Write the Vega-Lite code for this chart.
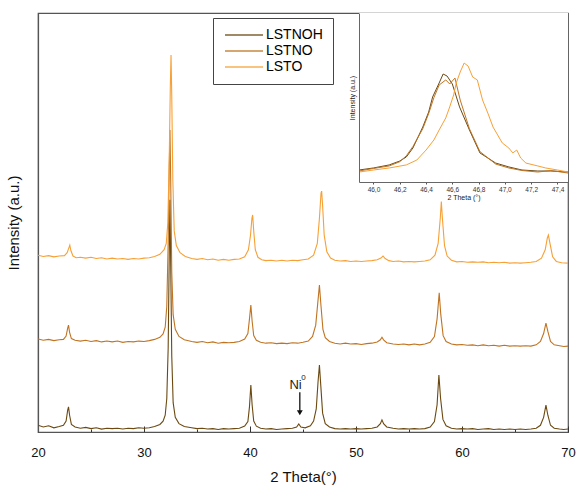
{
"$schema":"https://vega.github.io/schema/vega-lite/v6.json",
"width":530,"height":419,
"autosize":{"type":"none"},
"padding":{"left":38,"top":13,"right":10,"bottom":59},
"config":{"view":{"stroke":"#555","strokeWidth":1.2},"font":"Liberation Sans"},
"datasets":{
"main":[
{"s":"LSTNOH","x":20.0,"y":1.6},{"s":"LSTNOH","x":20.5,"y":1.2},{"s":"LSTNOH","x":21.0,"y":1.5},{"s":"LSTNOH","x":21.5,"y":1.0},{"s":"LSTNOH","x":22.0,"y":1.3},{"s":"LSTNOH","x":22.4,"y":1.6},{"s":"LSTNOH","x":22.65,"y":2.6},{"s":"LSTNOH","x":22.8,"y":5.2},{"s":"LSTNOH","x":22.88,"y":6.0},{"s":"LSTNOH","x":22.98,"y":4.0},{"s":"LSTNOH","x":23.15,"y":1.8},{"s":"LSTNOH","x":23.5,"y":1.2},{"s":"LSTNOH","x":24.0,"y":0.9},{"s":"LSTNOH","x":24.5,"y":1.1},{"s":"LSTNOH","x":25.0,"y":0.8},{"s":"LSTNOH","x":25.5,"y":1.0},{"s":"LSTNOH","x":26.0,"y":0.7},{"s":"LSTNOH","x":26.5,"y":0.9},{"s":"LSTNOH","x":27.0,"y":0.8},{"s":"LSTNOH","x":27.5,"y":0.9},{"s":"LSTNOH","x":28.0,"y":0.7},{"s":"LSTNOH","x":28.5,"y":0.9},{"s":"LSTNOH","x":29.0,"y":0.8},{"s":"LSTNOH","x":29.5,"y":1.0},{"s":"LSTNOH","x":30.0,"y":0.9},{"s":"LSTNOH","x":30.5,"y":1.0},{"s":"LSTNOH","x":31.0,"y":1.3},{"s":"LSTNOH","x":31.5,"y":1.8},{"s":"LSTNOH","x":31.8,"y":2.6},{"s":"LSTNOH","x":32.0,"y":4.0},{"s":"LSTNOH","x":32.15,"y":8},{"s":"LSTNOH","x":32.28,"y":20},{"s":"LSTNOH","x":32.38,"y":42},{"s":"LSTNOH","x":32.45,"y":55.4},{"s":"LSTNOH","x":32.52,"y":40},{"s":"LSTNOH","x":32.62,"y":18},{"s":"LSTNOH","x":32.75,"y":7},{"s":"LSTNOH","x":32.95,"y":3.5},{"s":"LSTNOH","x":33.3,"y":2.0},{"s":"LSTNOH","x":33.8,"y":1.3},{"s":"LSTNOH","x":34.5,"y":1.0},{"s":"LSTNOH","x":35.0,"y":0.8},{"s":"LSTNOH","x":35.5,"y":0.9},{"s":"LSTNOH","x":36.0,"y":0.7},{"s":"LSTNOH","x":36.5,"y":0.8},{"s":"LSTNOH","x":37.0,"y":0.6},{"s":"LSTNOH","x":37.5,"y":0.8},{"s":"LSTNOH","x":38.0,"y":0.7},{"s":"LSTNOH","x":38.5,"y":0.8},{"s":"LSTNOH","x":39.0,"y":0.9},{"s":"LSTNOH","x":39.5,"y":1.4},{"s":"LSTNOH","x":39.8,"y":2.5},{"s":"LSTNOH","x":39.95,"y":6},{"s":"LSTNOH","x":40.08,"y":11.2},{"s":"LSTNOH","x":40.2,"y":6.5},{"s":"LSTNOH","x":40.35,"y":2.6},{"s":"LSTNOH","x":40.6,"y":1.4},{"s":"LSTNOH","x":41.0,"y":0.9},{"s":"LSTNOH","x":41.5,"y":0.7},{"s":"LSTNOH","x":42.0,"y":0.8},{"s":"LSTNOH","x":42.5,"y":0.6},{"s":"LSTNOH","x":43.0,"y":0.7},{"s":"LSTNOH","x":43.5,"y":0.8},{"s":"LSTNOH","x":44.0,"y":0.9},{"s":"LSTNOH","x":44.4,"y":1.2},{"s":"LSTNOH","x":44.6,"y":1.9},{"s":"LSTNOH","x":44.8,"y":1.2},{"s":"LSTNOH","x":45.2,"y":1.0},{"s":"LSTNOH","x":45.7,"y":1.5},{"s":"LSTNOH","x":46.0,"y":2.6},{"s":"LSTNOH","x":46.25,"y":5.5},{"s":"LSTNOH","x":46.42,"y":12},{"s":"LSTNOH","x":46.55,"y":16.0},{"s":"LSTNOH","x":46.68,"y":11},{"s":"LSTNOH","x":46.85,"y":4.5},{"s":"LSTNOH","x":47.1,"y":2.0},{"s":"LSTNOH","x":47.5,"y":1.2},{"s":"LSTNOH","x":48.0,"y":0.8},{"s":"LSTNOH","x":48.5,"y":0.7},{"s":"LSTNOH","x":49.0,"y":0.8},{"s":"LSTNOH","x":49.5,"y":0.7},{"s":"LSTNOH","x":50.0,"y":0.8},{"s":"LSTNOH","x":50.5,"y":0.7},{"s":"LSTNOH","x":51.0,"y":0.8},{"s":"LSTNOH","x":51.5,"y":0.9},{"s":"LSTNOH","x":52.0,"y":1.2},{"s":"LSTNOH","x":52.3,"y":2.0},{"s":"LSTNOH","x":52.45,"y":2.9},{"s":"LSTNOH","x":52.6,"y":2.0},{"s":"LSTNOH","x":52.9,"y":1.2},{"s":"LSTNOH","x":53.5,"y":0.9},{"s":"LSTNOH","x":54.0,"y":0.7},{"s":"LSTNOH","x":54.5,"y":0.8},{"s":"LSTNOH","x":55.0,"y":0.7},{"s":"LSTNOH","x":55.5,"y":0.8},{"s":"LSTNOH","x":56.0,"y":0.7},{"s":"LSTNOH","x":56.5,"y":0.8},{"s":"LSTNOH","x":57.0,"y":1.2},{"s":"LSTNOH","x":57.4,"y":2.5},{"s":"LSTNOH","x":57.65,"y":6.5},{"s":"LSTNOH","x":57.82,"y":13.6},{"s":"LSTNOH","x":57.98,"y":8},{"s":"LSTNOH","x":58.2,"y":3},{"s":"LSTNOH","x":58.5,"y":1.5},{"s":"LSTNOH","x":59.0,"y":0.9},{"s":"LSTNOH","x":59.5,"y":0.7},{"s":"LSTNOH","x":60.0,"y":0.8},{"s":"LSTNOH","x":60.5,"y":0.7},{"s":"LSTNOH","x":61.0,"y":0.8},{"s":"LSTNOH","x":61.5,"y":0.6},{"s":"LSTNOH","x":62.0,"y":0.7},{"s":"LSTNOH","x":62.5,"y":0.8},{"s":"LSTNOH","x":63.0,"y":0.6},{"s":"LSTNOH","x":63.5,"y":0.7},{"s":"LSTNOH","x":64.0,"y":0.6},{"s":"LSTNOH","x":64.5,"y":0.7},{"s":"LSTNOH","x":65.0,"y":0.6},{"s":"LSTNOH","x":65.5,"y":0.7},{"s":"LSTNOH","x":66.0,"y":0.6},{"s":"LSTNOH","x":66.5,"y":0.7},{"s":"LSTNOH","x":67.0,"y":0.9},{"s":"LSTNOH","x":67.4,"y":1.6},{"s":"LSTNOH","x":67.7,"y":3.5},{"s":"LSTNOH","x":67.92,"y":6.4},{"s":"LSTNOH","x":68.1,"y":4},{"s":"LSTNOH","x":68.35,"y":1.6},{"s":"LSTNOH","x":68.7,"y":0.9},{"s":"LSTNOH","x":69.2,"y":0.7},{"s":"LSTNOH","x":69.6,"y":0.6},{"s":"LSTNOH","x":70.0,"y":0.7},
{"s":"LSTNO","x":20.0,"y":22.2},{"s":"LSTNO","x":20.5,"y":21.9},{"s":"LSTNO","x":21.0,"y":22.1},{"s":"LSTNO","x":21.5,"y":21.8},{"s":"LSTNO","x":22.0,"y":22.0},{"s":"LSTNO","x":22.4,"y":22.1},{"s":"LSTNO","x":22.65,"y":22.9},{"s":"LSTNO","x":22.8,"y":24.8},{"s":"LSTNO","x":22.88,"y":25.5},{"s":"LSTNO","x":22.98,"y":23.8},{"s":"LSTNO","x":23.15,"y":22.3},{"s":"LSTNO","x":23.5,"y":21.9},{"s":"LSTNO","x":24.0,"y":21.7},{"s":"LSTNO","x":24.5,"y":21.9},{"s":"LSTNO","x":25.0,"y":21.6},{"s":"LSTNO","x":25.5,"y":21.8},{"s":"LSTNO","x":26.0,"y":21.5},{"s":"LSTNO","x":26.5,"y":21.7},{"s":"LSTNO","x":27.0,"y":21.5},{"s":"LSTNO","x":27.5,"y":21.7},{"s":"LSTNO","x":28.0,"y":21.4},{"s":"LSTNO","x":28.5,"y":21.6},{"s":"LSTNO","x":29.0,"y":21.5},{"s":"LSTNO","x":29.5,"y":21.7},{"s":"LSTNO","x":30.0,"y":21.6},{"s":"LSTNO","x":30.5,"y":21.8},{"s":"LSTNO","x":31.0,"y":22.1},{"s":"LSTNO","x":31.5,"y":22.6},{"s":"LSTNO","x":31.8,"y":23.4},{"s":"LSTNO","x":32.0,"y":25},{"s":"LSTNO","x":32.15,"y":30},{"s":"LSTNO","x":32.28,"y":45},{"s":"LSTNO","x":32.38,"y":63},{"s":"LSTNO","x":32.45,"y":72.1},{"s":"LSTNO","x":32.52,"y":60},{"s":"LSTNO","x":32.62,"y":38},{"s":"LSTNO","x":32.75,"y":28},{"s":"LSTNO","x":32.95,"y":24.5},{"s":"LSTNO","x":33.3,"y":22.8},{"s":"LSTNO","x":33.8,"y":22.0},{"s":"LSTNO","x":34.5,"y":21.6},{"s":"LSTNO","x":35.0,"y":21.4},{"s":"LSTNO","x":35.5,"y":21.6},{"s":"LSTNO","x":36.0,"y":21.3},{"s":"LSTNO","x":36.5,"y":21.5},{"s":"LSTNO","x":37.0,"y":21.2},{"s":"LSTNO","x":37.5,"y":21.4},{"s":"LSTNO","x":38.0,"y":21.3},{"s":"LSTNO","x":38.5,"y":21.4},{"s":"LSTNO","x":39.0,"y":21.6},{"s":"LSTNO","x":39.5,"y":22.2},{"s":"LSTNO","x":39.8,"y":23.5},{"s":"LSTNO","x":39.95,"y":27},{"s":"LSTNO","x":40.08,"y":30.3},{"s":"LSTNO","x":40.2,"y":26.5},{"s":"LSTNO","x":40.35,"y":23.0},{"s":"LSTNO","x":40.6,"y":21.9},{"s":"LSTNO","x":41.0,"y":21.4},{"s":"LSTNO","x":41.5,"y":21.2},{"s":"LSTNO","x":42.0,"y":21.3},{"s":"LSTNO","x":42.5,"y":21.1},{"s":"LSTNO","x":43.0,"y":21.2},{"s":"LSTNO","x":43.5,"y":21.1},{"s":"LSTNO","x":44.0,"y":21.3},{"s":"LSTNO","x":44.5,"y":21.2},{"s":"LSTNO","x":45.0,"y":21.4},{"s":"LSTNO","x":45.5,"y":21.7},{"s":"LSTNO","x":45.9,"y":22.8},{"s":"LSTNO","x":46.2,"y":25.5},{"s":"LSTNO","x":46.4,"y":31},{"s":"LSTNO","x":46.55,"y":35.1},{"s":"LSTNO","x":46.7,"y":30},{"s":"LSTNO","x":46.88,"y":24.5},{"s":"LSTNO","x":47.1,"y":22.5},{"s":"LSTNO","x":47.5,"y":21.6},{"s":"LSTNO","x":48.0,"y":21.2},{"s":"LSTNO","x":48.5,"y":21.0},{"s":"LSTNO","x":49.0,"y":21.2},{"s":"LSTNO","x":49.5,"y":21.0},{"s":"LSTNO","x":50.0,"y":21.1},{"s":"LSTNO","x":50.5,"y":20.9},{"s":"LSTNO","x":51.0,"y":21.1},{"s":"LSTNO","x":51.5,"y":21.2},{"s":"LSTNO","x":52.0,"y":21.5},{"s":"LSTNO","x":52.3,"y":22.0},{"s":"LSTNO","x":52.45,"y":22.6},{"s":"LSTNO","x":52.6,"y":22.0},{"s":"LSTNO","x":52.9,"y":21.3},{"s":"LSTNO","x":53.5,"y":21.0},{"s":"LSTNO","x":54.0,"y":20.9},{"s":"LSTNO","x":54.5,"y":21.0},{"s":"LSTNO","x":55.0,"y":20.8},{"s":"LSTNO","x":55.5,"y":21.0},{"s":"LSTNO","x":56.0,"y":20.8},{"s":"LSTNO","x":56.5,"y":21.0},{"s":"LSTNO","x":57.0,"y":21.4},{"s":"LSTNO","x":57.4,"y":22.8},{"s":"LSTNO","x":57.65,"y":27},{"s":"LSTNO","x":57.85,"y":33.2},{"s":"LSTNO","x":58.0,"y":28},{"s":"LSTNO","x":58.22,"y":23},{"s":"LSTNO","x":58.5,"y":21.6},{"s":"LSTNO","x":59.0,"y":21.0},{"s":"LSTNO","x":59.5,"y":20.8},{"s":"LSTNO","x":60.0,"y":20.9},{"s":"LSTNO","x":60.5,"y":20.7},{"s":"LSTNO","x":61.0,"y":20.8},{"s":"LSTNO","x":61.5,"y":20.6},{"s":"LSTNO","x":62.0,"y":20.8},{"s":"LSTNO","x":62.5,"y":20.6},{"s":"LSTNO","x":63.0,"y":20.7},{"s":"LSTNO","x":63.5,"y":20.5},{"s":"LSTNO","x":64.0,"y":20.7},{"s":"LSTNO","x":64.5,"y":20.5},{"s":"LSTNO","x":65.0,"y":20.6},{"s":"LSTNO","x":65.5,"y":20.5},{"s":"LSTNO","x":66.0,"y":20.6},{"s":"LSTNO","x":66.5,"y":20.5},{"s":"LSTNO","x":67.0,"y":20.8},{"s":"LSTNO","x":67.4,"y":21.6},{"s":"LSTNO","x":67.7,"y":23.5},{"s":"LSTNO","x":67.92,"y":26.0},{"s":"LSTNO","x":68.1,"y":24},{"s":"LSTNO","x":68.35,"y":21.6},{"s":"LSTNO","x":68.7,"y":20.8},{"s":"LSTNO","x":69.2,"y":20.6},{"s":"LSTNO","x":69.6,"y":20.4},{"s":"LSTNO","x":70.0,"y":20.5},
{"s":"LSTO","x":20.0,"y":42.2},{"s":"LSTO","x":20.5,"y":41.9},{"s":"LSTO","x":21.0,"y":42.1},{"s":"LSTO","x":21.5,"y":41.8},{"s":"LSTO","x":22.0,"y":42.0},{"s":"LSTO","x":22.5,"y":42.1},{"s":"LSTO","x":22.75,"y":42.8},{"s":"LSTO","x":22.92,"y":44.0},{"s":"LSTO","x":23.0,"y":44.6},{"s":"LSTO","x":23.1,"y":43.3},{"s":"LSTO","x":23.3,"y":42.0},{"s":"LSTO","x":23.6,"y":41.6},{"s":"LSTO","x":24.0,"y":41.7},{"s":"LSTO","x":24.5,"y":41.5},{"s":"LSTO","x":25.0,"y":41.7},{"s":"LSTO","x":25.5,"y":41.4},{"s":"LSTO","x":26.0,"y":41.6},{"s":"LSTO","x":26.5,"y":41.3},{"s":"LSTO","x":27.0,"y":41.5},{"s":"LSTO","x":27.5,"y":41.3},{"s":"LSTO","x":28.0,"y":41.4},{"s":"LSTO","x":28.5,"y":41.2},{"s":"LSTO","x":29.0,"y":41.4},{"s":"LSTO","x":29.5,"y":41.3},{"s":"LSTO","x":30.0,"y":41.5},{"s":"LSTO","x":30.5,"y":41.6},{"s":"LSTO","x":31.0,"y":41.9},{"s":"LSTO","x":31.5,"y":42.4},{"s":"LSTO","x":31.9,"y":43.5},{"s":"LSTO","x":32.1,"y":45},{"s":"LSTO","x":32.25,"y":50},{"s":"LSTO","x":32.38,"y":65},{"s":"LSTO","x":32.48,"y":82},{"s":"LSTO","x":32.55,"y":90.0},{"s":"LSTO","x":32.62,"y":80},{"s":"LSTO","x":32.72,"y":60},{"s":"LSTO","x":32.85,"y":48},{"s":"LSTO","x":33.05,"y":44.5},{"s":"LSTO","x":33.4,"y":42.8},{"s":"LSTO","x":33.9,"y":41.9},{"s":"LSTO","x":34.5,"y":41.4},{"s":"LSTO","x":35.0,"y":41.2},{"s":"LSTO","x":35.5,"y":41.4},{"s":"LSTO","x":36.0,"y":41.1},{"s":"LSTO","x":36.5,"y":41.3},{"s":"LSTO","x":37.0,"y":41.0},{"s":"LSTO","x":37.5,"y":41.2},{"s":"LSTO","x":38.0,"y":41.0},{"s":"LSTO","x":38.5,"y":41.2},{"s":"LSTO","x":39.0,"y":41.3},{"s":"LSTO","x":39.5,"y":41.8},{"s":"LSTO","x":39.85,"y":43.5},{"s":"LSTO","x":40.05,"y":47},{"s":"LSTO","x":40.18,"y":51.0},{"s":"LSTO","x":40.25,"y":51.8},{"s":"LSTO","x":40.35,"y":48},{"s":"LSTO","x":40.5,"y":43.5},{"s":"LSTO","x":40.75,"y":41.7},{"s":"LSTO","x":41.1,"y":41.1},{"s":"LSTO","x":41.5,"y":40.9},{"s":"LSTO","x":42.0,"y":41.0},{"s":"LSTO","x":42.5,"y":40.8},{"s":"LSTO","x":43.0,"y":41.0},{"s":"LSTO","x":43.5,"y":40.8},{"s":"LSTO","x":44.0,"y":41.0},{"s":"LSTO","x":44.5,"y":40.9},{"s":"LSTO","x":45.0,"y":41.1},{"s":"LSTO","x":45.5,"y":41.3},{"s":"LSTO","x":46.0,"y":42.2},{"s":"LSTO","x":46.35,"y":45},{"s":"LSTO","x":46.55,"y":51},{"s":"LSTO","x":46.7,"y":57.0},{"s":"LSTO","x":46.76,"y":57.5},{"s":"LSTO","x":46.85,"y":54},{"s":"LSTO","x":47.0,"y":47},{"s":"LSTO","x":47.25,"y":43},{"s":"LSTO","x":47.6,"y":41.5},{"s":"LSTO","x":48.0,"y":41.0},{"s":"LSTO","x":48.5,"y":40.8},{"s":"LSTO","x":49.0,"y":40.9},{"s":"LSTO","x":49.5,"y":40.7},{"s":"LSTO","x":50.0,"y":40.8},{"s":"LSTO","x":50.5,"y":40.7},{"s":"LSTO","x":51.0,"y":40.8},{"s":"LSTO","x":51.5,"y":40.9},{"s":"LSTO","x":52.0,"y":41.1},{"s":"LSTO","x":52.35,"y":41.5},{"s":"LSTO","x":52.55,"y":42.0},{"s":"LSTO","x":52.75,"y":41.4},{"s":"LSTO","x":53.1,"y":40.9},{"s":"LSTO","x":53.5,"y":40.7},{"s":"LSTO","x":54.0,"y":40.8},{"s":"LSTO","x":54.5,"y":40.6},{"s":"LSTO","x":55.0,"y":40.7},{"s":"LSTO","x":55.5,"y":40.6},{"s":"LSTO","x":56.0,"y":40.7},{"s":"LSTO","x":56.5,"y":40.8},{"s":"LSTO","x":57.0,"y":41.1},{"s":"LSTO","x":57.45,"y":42.2},{"s":"LSTO","x":57.75,"y":45},{"s":"LSTO","x":57.95,"y":51},{"s":"LSTO","x":58.05,"y":55.0},{"s":"LSTO","x":58.15,"y":51},{"s":"LSTO","x":58.35,"y":44.5},{"s":"LSTO","x":58.6,"y":42.0},{"s":"LSTO","x":59.0,"y":41.0},{"s":"LSTO","x":59.5,"y":40.6},{"s":"LSTO","x":60.0,"y":40.7},{"s":"LSTO","x":60.5,"y":40.5},{"s":"LSTO","x":61.0,"y":40.6},{"s":"LSTO","x":61.5,"y":40.5},{"s":"LSTO","x":62.0,"y":40.6},{"s":"LSTO","x":62.5,"y":40.4},{"s":"LSTO","x":63.0,"y":40.5},{"s":"LSTO","x":63.5,"y":40.4},{"s":"LSTO","x":64.0,"y":40.5},{"s":"LSTO","x":64.5,"y":40.3},{"s":"LSTO","x":65.0,"y":40.4},{"s":"LSTO","x":65.5,"y":40.3},{"s":"LSTO","x":66.0,"y":40.4},{"s":"LSTO","x":66.5,"y":40.5},{"s":"LSTO","x":67.0,"y":40.7},{"s":"LSTO","x":67.5,"y":41.5},{"s":"LSTO","x":67.85,"y":43.5},{"s":"LSTO","x":68.05,"y":46.3},{"s":"LSTO","x":68.15,"y":47.0},{"s":"LSTO","x":68.3,"y":45},{"s":"LSTO","x":68.55,"y":41.8},{"s":"LSTO","x":68.9,"y":40.7},{"s":"LSTO","x":69.4,"y":40.4},{"s":"LSTO","x":70.0,"y":40.3}
],
"inset":[
{"s":"LSTNOH","x":45.89,"y":7.1},{"s":"LSTNOH","x":46.0,"y":8.3},{"s":"LSTNOH","x":46.12,"y":10.1},{"s":"LSTNOH","x":46.2,"y":12.4},{"s":"LSTNOH","x":46.25,"y":14.8},{"s":"LSTNOH","x":46.3,"y":20.1},{"s":"LSTNOH","x":46.375,"y":32.5},{"s":"LSTNOH","x":46.42,"y":41.4},{"s":"LSTNOH","x":46.45,"y":50.3},{"s":"LSTNOH","x":46.5,"y":58.6},{"s":"LSTNOH","x":46.53,"y":63.9},{"s":"LSTNOH","x":46.56,"y":62.7},{"s":"LSTNOH","x":46.6,"y":58},{"s":"LSTNOH","x":46.655,"y":44.4},{"s":"LSTNOH","x":46.73,"y":30.8},{"s":"LSTNOH","x":46.81,"y":17.2},{"s":"LSTNOH","x":46.93,"y":11.2},{"s":"LSTNOH","x":47.03,"y":8.9},{"s":"LSTNOH","x":47.13,"y":7.1},{"s":"LSTNOH","x":47.25,"y":6.5},{"s":"LSTNOH","x":47.35,"y":6.5},{"s":"LSTNOH","x":47.48,"y":5.9},
{"s":"LSTNO","x":45.89,"y":6.5},{"s":"LSTNO","x":46.0,"y":8.0},{"s":"LSTNO","x":46.12,"y":9.5},{"s":"LSTNO","x":46.2,"y":12.0},{"s":"LSTNO","x":46.25,"y":15.5},{"s":"LSTNO","x":46.3,"y":21.0},{"s":"LSTNO","x":46.375,"y":31.5},{"s":"LSTNO","x":46.42,"y":40.5},{"s":"LSTNO","x":46.46,"y":50.0},{"s":"LSTNO","x":46.5,"y":57.4},{"s":"LSTNO","x":46.55,"y":60.4},{"s":"LSTNO","x":46.58,"y":58},{"s":"LSTNO","x":46.62,"y":61.5},{"s":"LSTNO","x":46.66,"y":48.5},{"s":"LSTNO","x":46.73,"y":31.5},{"s":"LSTNO","x":46.81,"y":18.0},{"s":"LSTNO","x":46.93,"y":10.6},{"s":"LSTNO","x":47.03,"y":8.3},{"s":"LSTNO","x":47.13,"y":6.8},{"s":"LSTNO","x":47.25,"y":5.9},{"s":"LSTNO","x":47.35,"y":6.8},{"s":"LSTNO","x":47.48,"y":5.3},
{"s":"LSTO","x":45.89,"y":5.9},{"s":"LSTO","x":46.0,"y":7.1},{"s":"LSTO","x":46.12,"y":8.3},{"s":"LSTO","x":46.25,"y":10.1},{"s":"LSTO","x":46.33,"y":13},{"s":"LSTO","x":46.4,"y":18.9},{"s":"LSTO","x":46.46,"y":24.9},{"s":"LSTO","x":46.5,"y":30.8},{"s":"LSTO","x":46.55,"y":37.9},{"s":"LSTO","x":46.58,"y":44.4},{"s":"LSTO","x":46.61,"y":51.5},{"s":"LSTO","x":46.63,"y":58.6},{"s":"LSTO","x":46.66,"y":65.1},{"s":"LSTO","x":46.69,"y":70.4},{"s":"LSTO","x":46.72,"y":68.6},{"s":"LSTO","x":46.755,"y":62.1},{"s":"LSTO","x":46.79,"y":60.4},{"s":"LSTO","x":46.83,"y":48.5},{"s":"LSTO","x":46.87,"y":40.8},{"s":"LSTO","x":46.91,"y":32.5},{"s":"LSTO","x":46.98,"y":23.1},{"s":"LSTO","x":47.03,"y":20.1},{"s":"LSTO","x":47.06,"y":17.2},{"s":"LSTO","x":47.09,"y":18.9},{"s":"LSTO","x":47.12,"y":14.2},{"s":"LSTO","x":47.16,"y":11.2},{"s":"LSTO","x":47.25,"y":9.5},{"s":"LSTO","x":47.31,"y":8.3},{"s":"LSTO","x":47.4,"y":7.1},{"s":"LSTO","x":47.48,"y":5.9}
],
"box":[{"x":45.89,"x2":47.48,"y":0,"y2":100}],
"ni":[{"x":44.3,"y":11.3,"t":"Ni"}],
"sup":[{"x":45.05,"y":12.9,"t":"0"}],
"arrow":[{"x":44.7,"y":9.5,"y2":5.0}],
"head":[{"x":44.7,"y":4.6}]
},
"layer":[
{"layer":[
{"data":{"name":"main"},"mark":{"type":"line","strokeWidth":1.1,"clip":true},
"encoding":{
"x":{"field":"x","type":"quantitative","scale":{"domain":[20,70],"nice":false,"zero":false},
"axis":{"title":"2 Theta(°)","values":[20,25,30,35,40,45,50,55,60,65,70],"labelExpr":"datum.value % 10 === 0 ? datum.label : ''","labelFlush":false,"tickSize":{"condition":{"test":"datum.value % 10 === 0","value":-6},"value":-3},"tickColor":"#333","domainColor":"#555","domainWidth":1.2,"labelFontSize":13,"labelColor":"#111","labelPadding":20,"titleFontSize":15,"titleFontWeight":"normal","titleColor":"#111","titlePadding":10,"grid":false}},
"y":{"field":"y","type":"quantitative","scale":{"domain":[0,100],"nice":false,"zero":false},
"axis":{"title":"Intensity (a.u.)","labels":false,"ticks":false,"grid":false,"domainColor":"#555","domainWidth":1.2,"titleFontSize":15,"titleFontWeight":"normal","titleColor":"#111","titlePadding":17}},
"color":{"field":"s","type":"nominal","scale":{"domain":["LSTNOH","LSTNO","LSTO"],"range":["#6b4911","#c07422","#f7a035"]},
"legend":{"orient":"none","legendX":175,"legendY":5,"title":null,"symbolType":"M-1,0H6.6","symbolSize":100,"symbolStrokeWidth":1.5,"symbolOpacity":0.85,"labelFontSize":14,"labelColor":"#000","labelOffset":29,"strokeColor":"#444","fillColor":"white","padding":10,"rowPadding":2}}
}},
{"data":{"name":"ni"},"mark":{"type":"text","fontSize":13,"color":"#222"},"encoding":{"x":{"field":"x","type":"quantitative"},"y":{"field":"y","type":"quantitative"},"text":{"field":"t"}}},
{"data":{"name":"sup"},"mark":{"type":"text","fontSize":8,"color":"#222"},"encoding":{"x":{"field":"x","type":"quantitative"},"y":{"field":"y","type":"quantitative"},"text":{"field":"t"}}},
{"data":{"name":"arrow"},"mark":{"type":"rule","color":"#111","strokeWidth":1.3},"encoding":{"x":{"field":"x","type":"quantitative"},"y":{"field":"y","type":"quantitative"},"y2":{"field":"y2"}}},
{"data":{"name":"head"},"mark":{"type":"point","shape":"triangle-down","filled":true,"color":"#111","size":35,"opacity":1},"encoding":{"x":{"field":"x","type":"quantitative"},"y":{"field":"y","type":"quantitative"}}}
]},
{"layer":[
{"data":{"name":"box"},"mark":{"type":"rect","fill":"white","stroke":null},
"encoding":{
"x":{"field":"x","type":"quantitative","scale":{"domain":[45.89,47.48],"range":[321,530],"nice":false,"zero":false},
"axis":{"orient":"bottom","offset":-250,"zindex":2,"title":"2 Theta (°)","values":[46.0,46.2,46.4,46.6,46.8,47.0,47.2,47.4],"labelExpr":"replace(format(datum.value, '.1f'), '.', ',')","tickSize":2,"tickColor":"#555","domainColor":"#666","labelFontSize":6.5,"labelColor":"#333","labelPadding":2,"titleFontSize":7,"titleFontWeight":"normal","titleColor":"#222","titlePadding":1,"grid":false}},
"x2":{"field":"x2"},
"y":{"field":"y","type":"quantitative","scale":{"domain":[0,100],"range":[169,0],"nice":false,"zero":false},
"axis":{"orient":"left","offset":-321,"zindex":2,"title":"Intensity (a.u.)","labels":false,"ticks":false,"grid":false,"domainColor":"#666","titleFontSize":7,"titleFontWeight":"normal","titleColor":"#222","titlePadding":4}},
"y2":{"field":"y2"}
}},
{"data":{"name":"inset"},"mark":{"type":"line","strokeWidth":1},
"encoding":{
"x":{"field":"x","type":"quantitative"},
"y":{"field":"y","type":"quantitative"},
"color":{"field":"s","type":"nominal","scale":{"domain":["LSTNOH","LSTNO","LSTO"],"range":["#6b4911","#c07422","#f7a035"]},
"legend":{"orient":"none","legendX":175,"legendY":5,"title":null,"symbolType":"M-1,0H6.6","symbolSize":100,"symbolStrokeWidth":1.5,"symbolOpacity":0.85,"labelFontSize":14,"labelColor":"#000","labelOffset":29,"strokeColor":"#444","fillColor":"white","padding":10,"rowPadding":2}}
}}
]}
],
"resolve":{"scale":{"x":"independent","y":"independent","color":"shared"}}
}
